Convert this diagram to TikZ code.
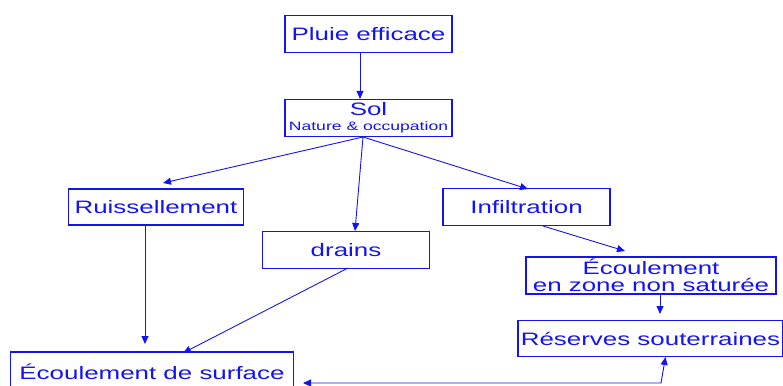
\documentclass[tikz,border=0pt]{standalone}
\usepackage{fontspec}
\setmainfont{Liberation Sans}
\usetikzlibrary{arrows.meta}
\definecolor{dblue}{RGB}{20,20,240}
\newcommand{\wide}[1]{\scalebox{1.44}[1]{#1}}
\begin{document}
\begin{tikzpicture}[x=1pt,y=-1pt,
  box/.style={draw=dblue,line width=1.1pt,text=dblue,inner sep=0pt,
    font=\fontsize{18}{19}\selectfont,align=center},
  arr/.style={draw=dblue,line width=0.9pt,-{Triangle[length=8pt,width=7pt]}}]
\useasboundingbox (0,0) rectangle (783,385);
\node[box,minimum width=167pt,minimum height=37pt] (pluie) at (368.5,34) {\wide{Pluie efficace}};
\node[box,minimum width=167pt,minimum height=37pt] (sol) at (368.5,118) {\raisebox{-2pt}{\wide{Sol}}\\[-2pt]{\fontsize{12.2}{13}\selectfont\wide{Nature \& occupation}}};
\node[box,minimum width=175pt,minimum height=36pt] (ruis) at (156,207) {\wide{Ruissellement}};
\node[box,minimum width=167pt,minimum height=36.5pt] (drains) at (346,250) {\wide{drains}};
\node[box,minimum width=167pt,minimum height=37.5pt] (infil) at (526.5,207) {\wide{Infiltration}};
\node[box,minimum width=250pt,minimum height=37pt] (zns) at (651,275.5) {\wide{Écoulement}\\[-2pt]\wide{en zone non saturée}};
\node[box,minimum width=265pt,minimum height=36.5pt] (res) at (650.5,338.5) {\wide{Réserves souterraines}};
\node[box,minimum width=283pt,minimum height=40pt] (surf) at (152,372) {\wide{Écoulement de surface}};
\coordinate (sb) at (363,137);
\coordinate (c0) at (303,383);
\coordinate (c1) at (661,383);
\draw[arr] (pluie.south -| 360,0) -- (sol.north -| 360,0);
\draw[arr] (sb) -- (163,183);
\draw[arr] (sb) -- (355,231);
\draw[arr] (sb) -- (528,189);
\draw[arr] (543,226) -- (625,251);
\draw[arr] (zns.south -| 660,0) -- (660,314);
\draw[arr] (145,225) -- (145,344);
\draw[arr] (348,268) -- (183,353);
\draw[draw=dblue,line width=0.9pt,{Triangle[length=8pt,width=7pt]}-{Triangle[length=8pt,width=7pt]}] (c0) -- (c1) -- (665.5,357);
\end{tikzpicture}
\end{document}
